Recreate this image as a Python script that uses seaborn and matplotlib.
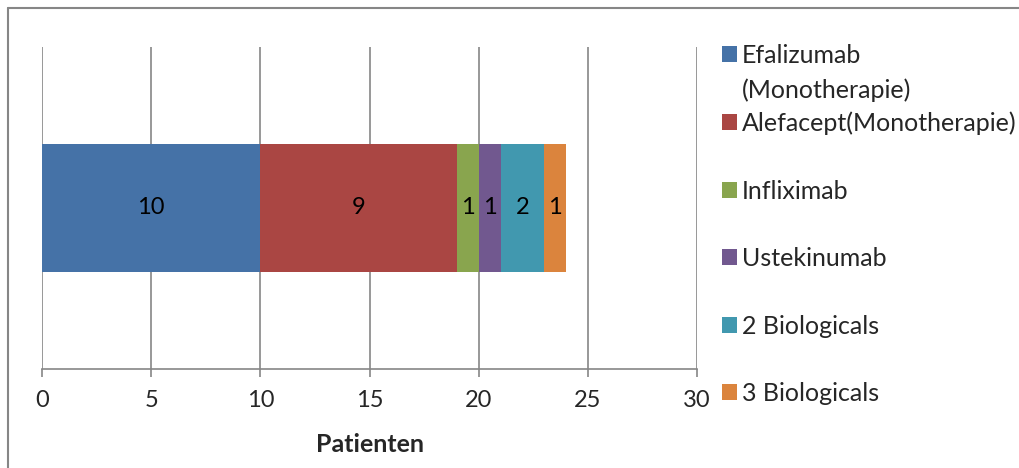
import numpy as np
import matplotlib
matplotlib.use("Agg")
import matplotlib.pyplot as plt
from matplotlib.patches import Patch
from matplotlib.lines import Line2D
import seaborn as sns

# data
treatments = ["Efalizumab", "Alefacept(Monotherapie)", "Infliximab",
              "Ustekinumab", "2 Biologicals", "3 Biologicals"]
patients = [10, 9, 1, 1, 2, 1]
colors = ["#4572A7", "#AA4643", "#89A54E", "#71588F", "#4198AF", "#DB843D"]
xticks = [0, 5, 10, 15, 20, 25, 30]

sns.set_style("white")
plt.rcParams["font.family"] = ["Lato", "DejaVu Sans"]
grey = "#868686"

fig = plt.figure(figsize=(10.19, 4.68), dpi=100)
ax = fig.add_axes([42 / 1019, 1 - 369 / 468, (697 - 42) / 1019, (369 - 47) / 468])

# stacked bar: draw cumulative totals from longest to shortest
cum = np.cumsum(patients)
for i in reversed(range(len(patients))):
    sns.barplot(x=[cum[i]], y=[""], orient="h", color=colors[i], saturation=1,
                width=0.4, linewidth=0, ax=ax)

for i, v in enumerate(patients):
    ax.text(cum[i] - v / 2, 0, str(v), ha="center", va="center", fontsize=17, color="black")

ax.set_xlim(0, 30)
ax.set_ylim(0.5, -0.5)
ax.set_xticks(xticks)
ax.set_yticks([])
ax.set_ylabel("")
ax.xaxis.grid(True, color=grey, linewidth=1.2)
ax.set_axisbelow(True)
for s in ["top", "right", "left"]:
    ax.spines[s].set_visible(False)
ax.spines["bottom"].set_color(grey)
ax.spines["bottom"].set_linewidth(1.2)
ax.tick_params(axis="x", direction="out", length=6, width=1.2, color=grey,
               labelsize=17, pad=9, bottom=True)
ax.set_xlabel("Patienten", fontsize=18, fontweight="bold", labelpad=16)

# legend
handles = [Patch(facecolor=c, edgecolor="none") for c in colors]
leg = fig.legend(handles, treatments, loc="upper left",
                 bbox_to_anchor=(712 / 1019, 1 - 34 / 468), frameon=False,
                 fontsize=18, labelspacing=1.78, handlelength=0.6, handleheight=0.6,
                 handletextpad=0.2, borderaxespad=0)
fig.canvas.draw()
bb = leg.get_texts()[0].get_window_extent()
fig.text(bb.x0 / fig.bbox.width, (bb.y0 - 35) / fig.bbox.height, "(Monotherapie)",
         fontsize=18, ha="left", va="bottom")

# outer chart border (only left and top edges fall inside the picture)
fig.add_artist(Line2D([8 / 1019, 8 / 1019], [0, 1 - 8 / 468], color=grey, linewidth=1.5))
fig.add_artist(Line2D([8 / 1019, 1], [1 - 8 / 468, 1 - 8 / 468], color=grey, linewidth=1.5))

fig.savefig("out.png", dpi=100)
